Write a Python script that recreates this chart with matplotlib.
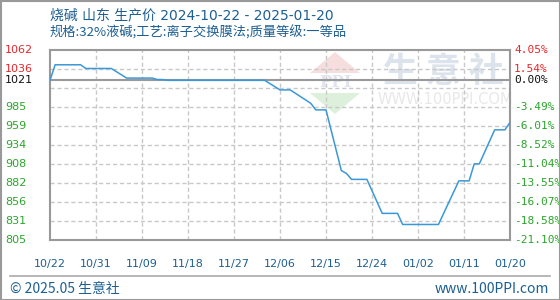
import numpy as np
import pandas as pd
import matplotlib
matplotlib.use('Agg')
import matplotlib.pyplot as plt
from matplotlib.patches import Polygon, Rectangle
from matplotlib.lines import Line2D

plt.rcParams['font.family'] = ['Noto Sans CJK SC', 'DejaVu Sans']

# price series (breakpoints)
dates = ['2024-10-22', '2024-10-23', '2024-10-28', '2024-10-29', '2024-11-03',
         '2024-11-06', '2024-11-11', '2024-11-12', '2024-11-13', '2024-11-14',
         '2024-12-03', '2024-12-06', '2024-12-08', '2024-12-12', '2024-12-13',
         '2024-12-15', '2024-12-18', '2024-12-19', '2024-12-20', '2024-12-23',
         '2024-12-26', '2024-12-29', '2024-12-30', '2025-01-06', '2025-01-10',
         '2025-01-12', '2025-01-13', '2025-01-14', '2025-01-17', '2025-01-19',
         '2025-01-20']
prices = [1021, 1042, 1042, 1037, 1037,
          1024, 1024, 1022, 1022, 1021,
          1021, 1008, 1008, 990, 981,
          981, 899, 895, 887, 887,
          841, 841, 826, 826, 885,
          885, 908, 908, 954, 954,
          964]

left_labels = ['1062', '1036', '1021', '985', '959', '934', '908', '882', '856', '831', '805']
left_values = [1062, 1036.3, 1021, 984.9, 959.2, 933.5, 907.8, 882.1, 856.4, 830.7, 805]
right_labels = ['4.05%', '1.54%', '0.00%', '-3.49%', '-6.01%', '-8.52%', '-11.04%',
                '-13.55%', '-16.07%', '-18.58%', '-21.10%']
label_colors = ['#e8262b', '#e8262b', '#111111'] + ['#2aa52a'] * 8

x_labels = ['10/22', '10/31', '11/09', '11/18', '11/27', '12/06', '12/15',
            '12/24', '01/02', '01/11', '01/20']

blue_text = '#1d5f91'
grid_col = '#c8c8c8'

fig = plt.figure(figsize=(5.6, 3.0), dpi=100)
ax = fig.add_axes([50 / 560, 60 / 300, 460 / 560, 190 / 300])

d = pd.to_datetime(dates)
start = pd.Timestamp('2024-10-22')
end = pd.Timestamp('2025-01-20')
ax.set_xlim(start, end)
ax.set_ylim(805, 1062)

# grid
xt = pd.date_range(start, end, freq='9D')
for t in xt[1:-1]:
    ax.axvline(t, color=grid_col, lw=1, ls=(0, (3, 2)), zorder=1)
for v in np.linspace(805, 1062, 11)[1:-1]:
    ax.axhline(v, color=grid_col, lw=1, ls=(0, (3, 2)), zorder=1)
ax.axhline(1021, color='#999999', lw=1.5, zorder=2)


def px(x, y):
    # pixel position inside the plot frame -> axes fraction
    return ((x - 50) / 460, (240 - y) / 190)


# watermark
for ch, cx in zip('生意社', [400, 443, 486]):
    ax.text(*px(cx, 71), ch, transform=ax.transAxes, ha='center', va='center',
            fontsize=25, color='#dde3ec', fontweight='bold', zorder=0)
ax.text(*px(445, 99), 'WWW.100PPI.COM', transform=ax.transAxes, ha='center', va='center',
        fontsize=10.5, color='#e8e8e8', family='DejaVu Sans', zorder=0)
ax.add_patch(Polygon([px(335, 52), px(310, 73), px(360, 73)], closed=True,
                     transform=ax.transAxes, color='#f7dede', zorder=0, lw=0))
ax.text(*px(335, 82), 'PPI', transform=ax.transAxes, ha='center', va='center',
        fontsize=12, color='#dfe4ee', fontweight='bold', family='DejaVu Serif', zorder=0)
ax.add_patch(Polygon([px(310, 93), px(360, 93), px(335, 114)], closed=True,
                     transform=ax.transAxes, color='#dcf0dc', zorder=0, lw=0))

ax.plot(d, prices, color='#3a98d8', lw=1.1, zorder=3)

for s in ax.spines.values():
    s.set_color('#999999')
    s.set_linewidth(1.5)

ax.set_xticks(xt)
ax.set_xticklabels(x_labels, color=blue_text, fontsize=8, family='DejaVu Sans')
ax.tick_params(axis='x', length=0, pad=14)
ax.set_yticks([])

for lab, val, rl, c in zip(left_labels, left_values, right_labels, label_colors):
    ax.text(-45 / 460, val, lab, transform=ax.get_yaxis_transform(), ha='left',
            va='center', fontsize=8, color=c, family='DejaVu Sans')
    ax.text(1 + 4 / 460, val, rl, transform=ax.get_yaxis_transform(), ha='left',
            va='center', fontsize=8, color=c, family='DejaVu Sans Mono')

fig.text(50 / 560, 1 - 15 / 300, '烧碱 山东 生产价 2024-10-22 - 2025-01-20',
         ha='left', va='center', fontsize=10, color=blue_text,
         family=['DejaVu Sans', 'Noto Sans CJK SC'])
fig.text(50 / 560, 1 - 33 / 300, '规格:32%液碱;工艺:离子交换膜法;质量等级:一等品',
         ha='left', va='center', fontsize=9.5, color=blue_text)

fig.add_artist(Line2D([10 / 560, 550 / 560], [1 - 276 / 300] * 2, color='#aaaaaa', lw=1.2))
fig.text(10 / 560, 1 - 289 / 300, '© 2025.05 生意社', ha='left', va='center',
         fontsize=10, color=blue_text)
fig.text(549 / 560, 1 - 289 / 300, 'www.100PPI.com', ha='right', va='center',
         fontsize=10, color=blue_text)
fig.add_artist(Rectangle((0.5 / 560, 0.5 / 300), 559 / 560, 299 / 300, transform=fig.transFigure,
                         fill=False, edgecolor='#999999', lw=1.5))

fig.savefig('out.png', dpi=100)
